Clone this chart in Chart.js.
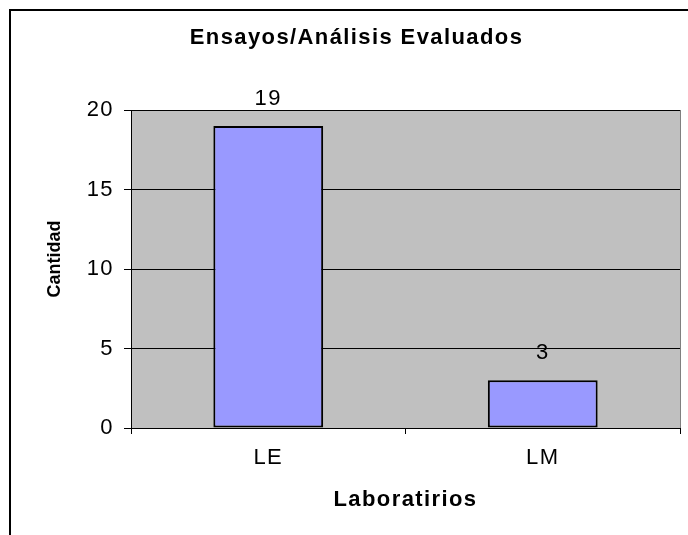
<!DOCTYPE html>
<html>
<head>
<meta charset="utf-8">
<script src="https://cdn.jsdelivr.net/npm/chart.js@4"></script>
<style>
  html, body { margin: 0; padding: 0; background: #fff; }
  canvas { display: block; }
</style>
</head>
<body>
<canvas id="barchart" width="688" height="535"></canvas>
<script>
// data
const categories = ['LE', 'LM'];
const values = [19, 3];
const yTicks = [0, 5, 10, 15, 20];

const chartTitle = 'Ensayos/Análisis Evaluados';
const xTitle = 'Laboratirios';
const yTitle = 'Cantidad';

const FONT = '"Liberation Sans", Arial, sans-serif';
const SPACING = '1.4px';   // Excel spreads its letters a bit

// white page, gray plot area, outer frame
const frame = {
    id: 'frame',
    beforeDraw(chart) {
        const {ctx, chartArea: a} = chart;
        ctx.fillStyle = '#ffffff';
        ctx.fillRect(0, 0, chart.width, chart.height);
        ctx.fillStyle = '#c0c0c0';
        ctx.fillRect(a.left, a.top, a.right - a.left, a.bottom - a.top);
        ctx.letterSpacing = SPACING;
    },
    afterDraw(chart) {
        const {ctx, chartArea: a} = chart;
        ctx.save();
        // plot area right edge
        ctx.strokeStyle = '#808080';
        ctx.lineWidth = 1;
        ctx.beginPath();
        ctx.moveTo(Math.round(a.right) + 0.5, a.top);
        ctx.lineTo(Math.round(a.right) + 0.5, a.bottom);
        ctx.stroke();
        // outer border (right and bottom fall off the picture)
        ctx.strokeStyle = '#000';
        ctx.lineWidth = 2;
        ctx.strokeRect(10, 10, 700, 600);
        // y axis title
        ctx.letterSpacing = '0px';
        ctx.translate(55, 259);
        ctx.rotate(-Math.PI / 2);
        ctx.font = 'bold 18px ' + FONT;
        ctx.fillStyle = '#000';
        ctx.textAlign = 'center';
        ctx.textBaseline = 'middle';
        ctx.fillText(yTitle, 0, 0);
        ctx.restore();
    }
};

// value above each bar
const barLabels = {
    id: 'barLabels',
    afterDatasetsDraw(chart) {
        const {ctx} = chart;
        ctx.save();
        ctx.font = '22px ' + FONT;
        ctx.fillStyle = '#000';
        ctx.textAlign = 'center';
        ctx.textBaseline = 'middle';
        chart.getDatasetMeta(0).data.forEach((bar, i) => {
            ctx.fillText(String(values[i]), bar.x, bar.y - 27);
        });
        ctx.restore();
    }
};

const ctxBar = document.getElementById('barchart').getContext('2d');

const barchart = new Chart(ctxBar, {
    type: 'bar',
    data: {
        labels: categories,
        datasets: [{
            data: values,
            backgroundColor: '#9999ff',
            borderColor: '#000000',
            borderWidth: 2,
            borderSkipped: false,
            barPercentage: 0.4,
            categoryPercentage: 1.0
        }]
    },
    options: {
        responsive: false,
        animation: false,
        events: [],
        layout: {
            padding: { left: 33, right: 8, top: 0, bottom: 0 }
        },
        plugins: {
            legend: { display: false },
            tooltip: { enabled: false },
            title: {
                display: true,
                text: chartTitle,
                color: '#000',
                font: { family: FONT, size: 22, weight: 'bold' },
                padding: { top: 25, bottom: 58.6 }
            }
        },
        scales: {
            x: {
                offset: true,
                grid: {
                    offset: true,
                    drawOnChartArea: false,
                    drawTicks: true,
                    tickLength: 6,
                    color: '#000'
                },
                border: { display: true, color: '#000', width: 1 },
                ticks: {
                    color: '#000',
                    padding: 11,
                    font: { family: FONT, size: 22 }
                },
                title: {
                    display: true,
                    text: xTitle,
                    color: '#000',
                    font: { family: FONT, size: 22, weight: 'bold' },
                    padding: { top: 0, bottom: 22 }
                },
                afterFit(scale) { scale.height = 107; }
            },
            y: {
                min: yTicks[0],
                max: yTicks[yTicks.length - 1],
                grid: {
                    color: '#000',
                    lineWidth: 1,
                    drawTicks: true,
                    tickLength: 7
                },
                border: { display: true, color: '#000', width: 1 },
                ticks: {
                    stepSize: yTicks[1] - yTicks[0],
                    color: '#000',
                    padding: 10,
                    font: { family: FONT, size: 22 }
                },
                afterFit(scale) { scale.width = 98; }
            }
        }
    },
    plugins: [frame, barLabels]
});
</script>
</body>
</html>
